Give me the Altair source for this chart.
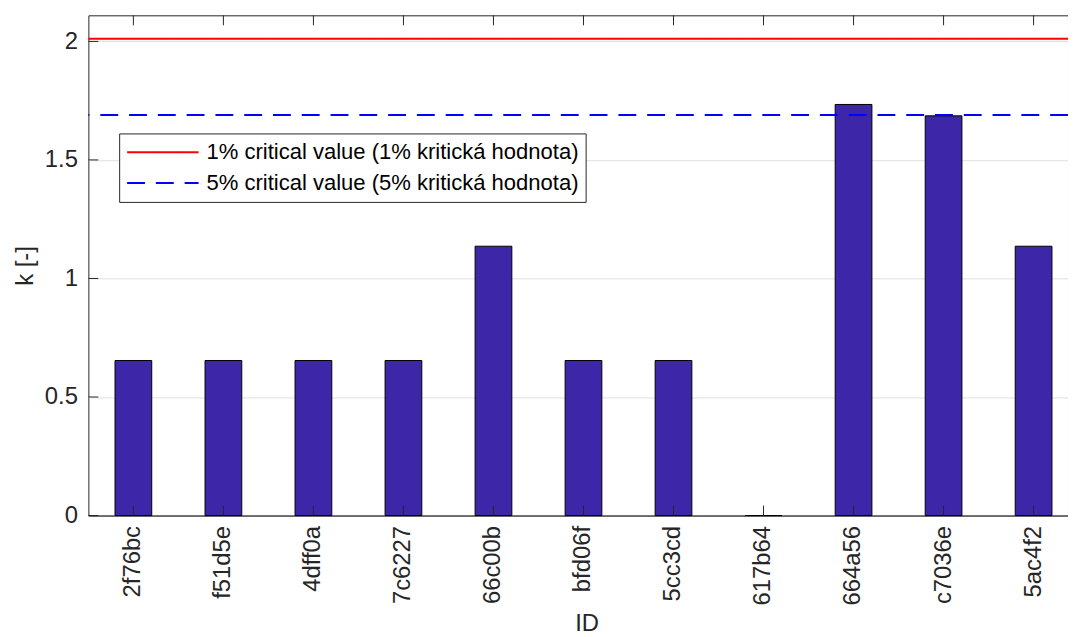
import altair as alt
import pandas as pd

ids = ["2f76bc", "f51d5e", "4dff0a", "7c6227", "66c00b", "bfd06f", "5cc3cd",
       "617b64", "664a56", "c7036e", "5ac4f2"]
k_values = [0.654, 0.654, 0.654, 0.654, 1.136, 0.654, 0.654, 0.0, 1.734, 1.686, 1.136]

crit_labels = ["1% critical value (1% kritická hodnota)",
               "5% critical value (5% kritická hodnota)"]
crit_values = [2.011, 1.690]
crit_colors = ["#ff0000", "#0000ff"]

y_ticks = [0, 0.5, 1, 1.5, 2]
y_max = 2.11

W, H = 987, 504
FONT = "Liberation Sans"
AX = "#262626"

bars_df = pd.DataFrame({"ID": ids, "k": k_values})
crit_df = pd.DataFrame({"name": crit_labels, "k": crit_values})
yt_df = pd.DataFrame({"k": y_ticks})
xt_df = pd.DataFrame({"ID": ids})

xscale = alt.Scale(domain=ids, paddingInner=0.592, paddingOuter=0.237, align=0.624)
yscale = alt.Scale(domain=[0, y_max], nice=False, zero=True)

bars = alt.Chart(bars_df).mark_bar(
    color="#3e26a8", stroke="#000000", strokeWidth=1
).encode(
    x=alt.X("ID:N", sort=None, scale=xscale,
            axis=alt.Axis(title="ID", labelAngle=-90, ticks=False, domain=True,
                          domainColor=AX, domainWidth=1, labelPadding=10,
                          titlePadding=7, titleX=502, grid=False)),
    y=alt.Y("k:Q", scale=yscale,
            axis=alt.Axis(title="k [-]", values=y_ticks, format="~g", ticks=False,
                          domain=False, grid=True, gridColor="#dfdfdf",
                          labelPadding=11, titlePadding=7)),
)

crit = alt.Chart(crit_df).mark_rule(strokeWidth=2).encode(
    y=alt.Y("k:Q", scale=yscale),
    color=alt.Color("name:N", scale=alt.Scale(domain=crit_labels, range=crit_colors),
                    legend=alt.Legend(title=None, orient="none", legendX=31, legendY=119,
                                      symbolType="stroke", symbolSize=5184,
                                      symbolStrokeWidth=2, clipHeight=24,
                                      rowPadding=7, padding=7, labelOffset=7,
                                      labelLimit=800, labelFontSize=22.2,
                                      labelFont=FONT, labelColor="#000000",
                                      fillColor="#ffffff", strokeColor=AX)),
    strokeDash=alt.StrokeDash("name:N",
                              scale=alt.Scale(domain=crit_labels, range=[[1, 0], [18, 11]])),
)

ytick = alt.Chart(yt_df).mark_rule(color=AX, strokeWidth=1).encode(
    y=alt.Y("k:Q", scale=yscale),
    x=alt.value(0), x2=alt.value(10),
)

xtick_top = alt.Chart(xt_df).mark_rule(color=AX, strokeWidth=1).encode(
    x=alt.X("ID:N", sort=None, scale=xscale),
    y=alt.value(0), y2=alt.value(10),
)
xtick_bot = alt.Chart(xt_df).mark_rule(color=AX, strokeWidth=1).encode(
    x=alt.X("ID:N", sort=None, scale=xscale),
    y=alt.value(H - 10), y2=alt.value(H),
)

chart = alt.layer(bars, crit, ytick, xtick_top, xtick_bot).properties(
    width=W, height=H,
    autosize=alt.AutoSizeParams(type="none"),
    padding={"left": 81, "top": 5, "right": 0, "bottom": 120},
).configure_view(
    stroke=AX, strokeWidth=1
).configure_axis(
    labelFont=FONT, labelFontSize=24, labelColor=AX,
    titleFont=FONT, titleFontSize=24, titleColor=AX, titleFontWeight="normal",
)

chart.save("out.html", embed_options={"renderer": "svg", "actions": False})
